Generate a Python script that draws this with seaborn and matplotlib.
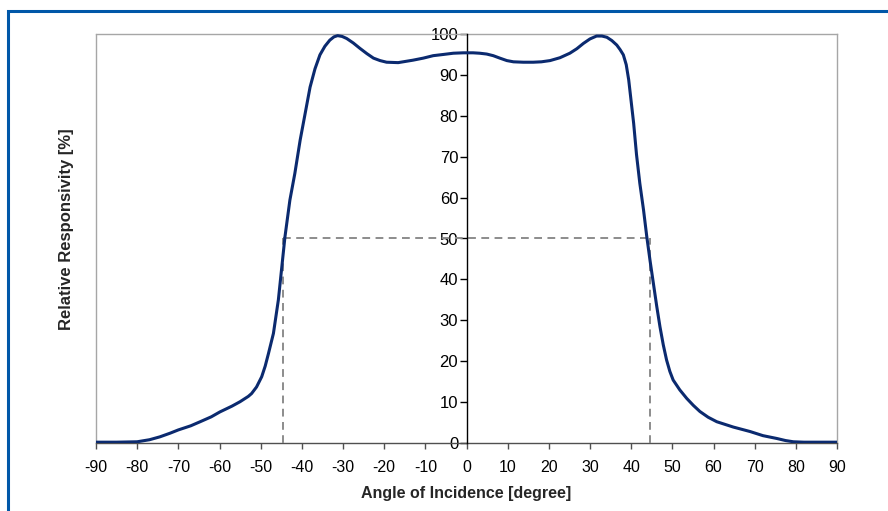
import matplotlib
matplotlib.use("Agg")
import matplotlib.pyplot as plt
import seaborn as sns
import pandas as pd
from matplotlib.patches import Rectangle

angles = [-90, -85, -80, -77, -74.5, -72, -70, -67, -64.7, -62, -59.9, -57, -55, -53, -52.2, -51,
          -49.75, -48.9, -48.1, -46.9, -45.7, -44.1, -42.9, -41.7, -40.4, -39.3, -38, -36.8, -35.6,
          -34.4, -33.2, -32.2, -31.3, -30.2, -29.1, -27.5, -25.9, -24.2, -22.6, -21, -19.4, -16.6,
          -13, -10.5, -8.1, -5.6, -3.2, -0.8, 1.6, 3.2, 4.9, 6.5, 8.1, 9.8, 11.4, 13.8, 16.2, 18.2,
          20.3, 22.7, 25.1, 26.8, 28.4, 30, 31.6, 32.9, 34.1, 35.3, 36.5, 37.3, 38.1, 38.8, 39.4,
          40, 40.6, 41.3, 42.1, 43, 43.8, 44.6, 45.4, 46.2, 47, 47.8, 48.6, 49.4, 50.2, 51.8, 53.5,
          55.1, 56.7, 58.7, 60.8, 64.8, 68.9, 72, 75.4, 77.5, 79.4, 82, 85, 90]
responsivity = [0.2, 0.2, 0.3, 0.8, 1.5, 2.4, 3.2, 4.2, 5.2, 6.4, 7.6, 9.0, 10.1, 11.4, 12.1, 13.7,
                16.2, 18.8, 21.9, 26.8, 35, 50.4, 59.4, 65.9, 74.1, 80.0, 87, 91.5, 94.9,
                97.0, 98.5, 99.3, 99.6, 99.4, 98.9, 97.8, 96.5, 95.2, 94.1, 93.5, 93.1, 93.0,
                93.6, 94.1, 94.7, 95.0, 95.3, 95.4, 95.4, 95.3, 95.1, 94.7, 94.1, 93.5, 93.2, 93.1, 93.1, 93.2,
                93.5, 94.2, 95.3, 96.4, 97.7, 98.8, 99.5, 99.5, 99.2, 98.4, 97.3, 96.2, 94.9, 92.5, 88.8,
                83.5, 78.2, 70.5, 63.5, 57, 50.4, 44.5, 39.0, 33.5, 28.4, 24.0, 20.3, 17.5, 15.4, 13.0, 10.9,
                9.2, 7.7, 6.3, 5.2, 3.9, 2.8, 1.8, 1.1, 0.6, 0.3, 0.2, 0.2, 0.2]

half_angles = [-44.5, 44.5]
half_level = 50
x_ticks = list(range(-90, 91, 10))
y_ticks = list(range(0, 101, 10))

sns.set_theme(style="white")
plt.rcParams['font.family'] = ['Liberation Sans', 'DejaVu Sans']
plt.rcParams['axes.unicode_minus'] = False

df = pd.DataFrame({"angle": angles, "resp": responsivity})

fig = plt.figure(figsize=(8.88, 5.11), dpi=100)
ax = fig.add_axes([96/888, 68/511, 741/888, 409/511])

# figure frame (blue)
fig.patches.append(Rectangle((8/888, -0.2), 1.2, (511-11)/511 + 0.2, transform=fig.transFigure,
                             fill=False, edgecolor="#0057a8", linewidth=2.2, zorder=0))

sns.lineplot(data=df, x="angle", y="resp", ax=ax, color="#0b2a6f", linewidth=2.2, sort=False,
             zorder=5)

# dashed half-power lines
ax.plot([half_angles[0], half_angles[1]], [half_level, half_level], color="#8c8c8c",
        linestyle=(0, (4, 2.8)), linewidth=1.4, zorder=3)
for a in half_angles:
    ax.plot([a, a], [0, half_level], color="#8c8c8c", linestyle=(0, (4, 2.8)), linewidth=1.4, zorder=3)

ax.set_xlim(-90, 90)
ax.set_ylim(0, 100)
ax.set_xticks(x_ticks)
ax.set_yticks(y_ticks)

for s in ["top", "right"]:
    ax.spines[s].set_color("#a6a6a6")
    ax.spines[s].set_linewidth(1.0)
ax.spines["left"].set_position(("data", 0))
ax.spines["left"].set_color("black")
ax.spines["left"].set_linewidth(1.0)
ax.spines["left"].set_zorder(4)
ax.spines["bottom"].set_color("#505050")
ax.spines["bottom"].set_linewidth(1.0)
ax.axvline(-90, color="#a6a6a6", linewidth=1.0, clip_on=False, zorder=1)

ax.tick_params(axis="y", direction="out", length=5, width=1, color="black", pad=1,
               labelsize=12, labelcolor="black", left=True)
ax.tick_params(axis="x", direction="out", length=4, width=1, color="#505050", pad=8,
               labelsize=11.5, labelcolor="black", bottom=True)

ax.set_xlabel("Angle of Incidence [degree]", fontsize=11.5, fontweight="bold", labelpad=8)
ax.set_ylabel("")
fig.text(66/888, 1 - 229/511, "Relative Responsivity [%]", rotation=90, fontsize=12,
         fontweight="bold", ha="center", va="center")
ax.grid(False)

fig.savefig("out.png", dpi=100)
